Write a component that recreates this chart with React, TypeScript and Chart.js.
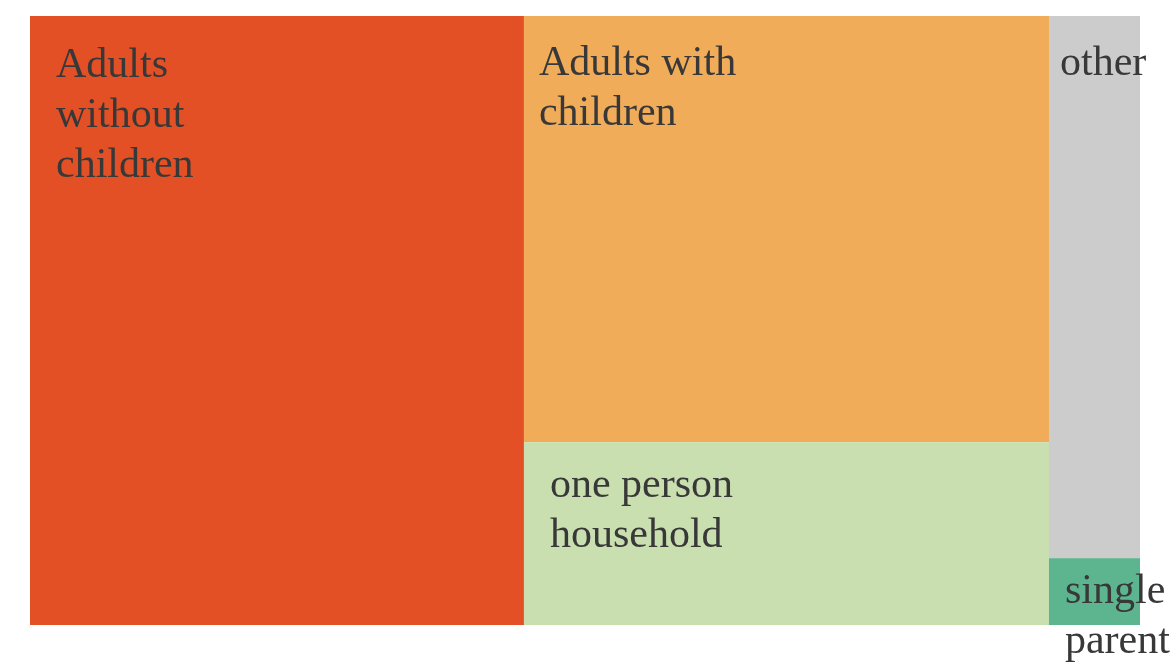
import React, { useEffect, useRef } from "react";
import { Chart, registerables } from "chart.js";

Chart.register(...registerables);

const categories: string[][] = [
  ["Adults", "without", "children"],
  ["Adults with", "children"],
  ["one person", "household"],
  ["other"],
  ["single", "parent"],
];
const shares: number[] = [44.5, 33.1, 14.2, 7.3, 0.9];
const colors: string[] = ["#E35026", "#F0AC59", "#C9DFB0", "#CCCCCC", "#5DB58F"];
// label inset inside each tile (x padding, first baseline offset)
const labelInsetX: number[] = [26, 15, 26, 11, 16];
const labelInsetY: number[] = [61, 59, 55, 59, 45];

type Rect = { x0: number; y0: number; x1: number; y1: number };

function squarify(values: number[], X0: number, Y0: number, X1: number, Y1: number): Rect[] {
  const ratio = (1 + Math.sqrt(5)) / 2;
  const out: Rect[] = [];
  let x0 = X0, y0 = Y0, x1 = X1, y1 = Y1;
  let value = values.reduce((a, b) => a + b, 0);
  const n = values.length;
  let i0 = 0;
  while (i0 < n) {
    const dx = x1 - x0, dy = y1 - y0;
    let i1 = i0;
    let sumValue = values[i1++];
    let minValue = sumValue, maxValue = sumValue;
    const alpha = Math.max(dy / dx, dx / dy) / (value * ratio);
    let beta = sumValue * sumValue * alpha;
    let minRatio = Math.max(maxValue / beta, beta / minValue);
    for (; i1 < n; ++i1) {
      const nv = values[i1];
      sumValue += nv;
      if (nv < minValue) minValue = nv;
      if (nv > maxValue) maxValue = nv;
      beta = sumValue * sumValue * alpha;
      const newRatio = Math.max(maxValue / beta, beta / minValue);
      if (newRatio > minRatio) { sumValue -= nv; break; }
      minRatio = newRatio;
    }
    if (dx < dy) {
      const ny = value ? y0 + (dy * sumValue) / value : y1;
      let cx = x0;
      for (let i = i0; i < i1; i++) {
        const w = ((x1 - x0) * values[i]) / sumValue;
        out.push({ x0: cx, y0: y0, x1: cx + w, y1: ny });
        cx += w;
      }
      y0 = ny;
    } else {
      const nx = value ? x0 + (dx * sumValue) / value : x1;
      let cy = y0;
      for (let i = i0; i < i1; i++) {
        const h = ((y1 - y0) * values[i]) / sumValue;
        out.push({ x0: x0, y0: cy, x1: nx, y1: cy + h });
        cy += h;
      }
      x0 = nx;
    }
    value -= sumValue;
    i0 = i1;
  }
  return out;
}

const treemapPlugin = {
  id: "treemapTiles",
  afterDatasetsDraw(chart: any) {
    const { ctx, scales } = chart;
    const xs = scales.x, ys = scales.y;
    const rects = squarify(
      shares,
      xs.getPixelForValue(0),
      ys.getPixelForValue(0),
      xs.getPixelForValue(1),
      ys.getPixelForValue(1)
    );
    ctx.save();
    rects.forEach((r, i) => {
      ctx.fillStyle = colors[i];
      ctx.fillRect(r.x0, r.y0, r.x1 - r.x0, r.y1 - r.y0);
    });
    ctx.fillStyle = "#383838";
    ctx.font = "42px 'Liberation Serif', 'Times New Roman', serif";
    ctx.textBaseline = "alphabetic";
    ctx.textAlign = "left";
    rects.forEach((r, i) => {
      categories[i].forEach((line, j) => {
        ctx.fillText(line, r.x0 + labelInsetX[i], r.y0 + labelInsetY[i] + j * 50);
      });
    });
    ctx.restore();
  },
};

export default function App() {
  const ref = useRef<HTMLCanvasElement | null>(null);
  useEffect(() => {
    document.body.style.margin = "0";
    document.body.style.overflow = "hidden";
    const chart = new Chart(ref.current as HTMLCanvasElement, {
      type: "scatter",
      data: { datasets: [{ data: [], label: "tiles" }] },
      options: {
        animation: false,
        responsive: true,
        maintainAspectRatio: false,
        layout: { padding: { left: 30, top: 16, right: 33, bottom: 41 } },
        plugins: { legend: { display: false }, tooltip: { enabled: false } },
        scales: {
          x: { type: "linear", min: 0, max: 1, display: false },
          y: { type: "linear", min: 0, max: 1, reverse: true, display: false },
        },
      },
      plugins: [treemapPlugin],
    });
    return () => chart.destroy();
  }, []);
  return (
    <div style={{ width: 1173, height: 666, position: "relative" }}>
      <canvas ref={ref} />
    </div>
  );
}
